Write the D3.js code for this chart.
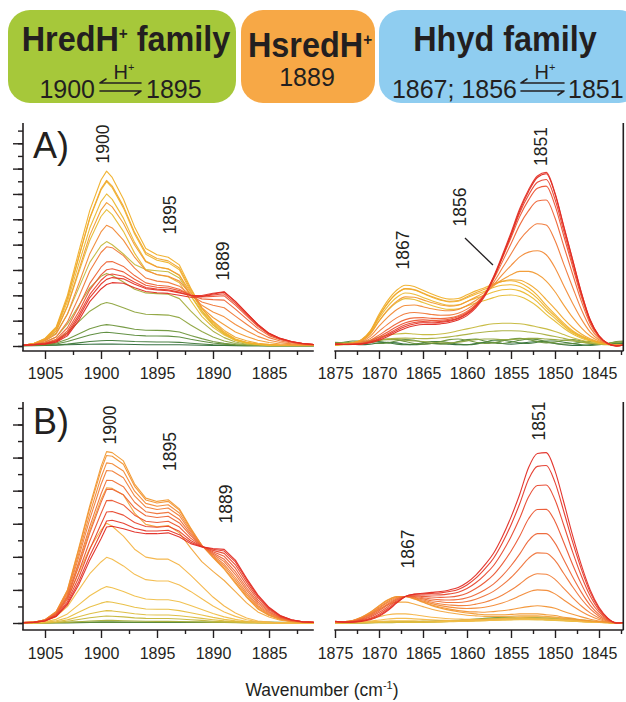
<!DOCTYPE html>
<html><head><meta charset="utf-8">
<script src="https://cdn.jsdelivr.net/npm/d3@7"></script>
<style>
body{margin:0;background:#fff}
svg{display:block}
text{font-family:"Liberation Sans",Arial,Helvetica,sans-serif;fill:#231f20}
</style>
</head><body>
<svg id="c" width="626" height="702"></svg>
<script>
// ---------------- DATA ----------------
const wnLeft = [1907,1906,1905,1904,1903,1902,1901,1900,1899.5,1899,1898,1897,1896,1895,1894,1893,1892,1891,1890,1889,1888,1887,1886,1885,1884,1883,1882,1881];
const wnRight = [1875,1874,1873,1872,1871,1870,1869,1868,1867,1866,1865,1864,1863,1862,1861,1860,1859,1858,1857,1856,1855,1854,1853,1852,1851,1850,1849,1848,1847,1846,1845,1844,1843,1842];

const leftTicks = [1905,1900,1895,1890,1885];
const leftMinorTicks = [1902.5,1897.5,1892.5,1887.5,1882.5];
const rightTicks = [1875,1870,1865,1860,1855,1850,1845];
const rightMinorTicks = [1872.5,1867.5,1862.5,1857.5,1852.5,1847.5,1842.5];
const yTicksA = [0,1,2,3,4,5,6,7,8,9,10,11,12,13,14,15,16,17];
const yTicksB = [0,1,2,3,4,5,6,7,8,9,10,11,12,13];

const colorsA = ["#2d6a3a","#3f7a38","#5a8a3a","#6f963c","#8ea43e","#a9ae3e","#c5b83c","#e6bc34","#ebb830","#efb42c","#f0b02a","#f0a62e","#f29a32","#f28a36","#f07838","#ee6436","#ec5232","#e8422e","#e43428","#e02a22"];
const colorsB = ["#4a7f36","#6a9238","#a8ae3a","#c4b63a","#dcbc3c","#e8be40","#f0bf48","#f3bb4a","#f4b446","#f2a53c","#f19a32","#f29434","#f28a36","#f17e38","#ef7238","#ed6536","#eb5632","#e8472e","#e5392a","#e22c24"];

const aLeftValues = [
[0.08,0.08,0.08,0.08,0.1,0.12,0.14,0.15,0.15,0.15,0.14,0.12,0.1,0.1,0.1,0.1,0.08,0.06,0.05,0.04,0.03,0.03,0.03,0.03,0.03,0.03,0.03,0.03],
[0.02,0.03,0.04,0.07,0.15,0.25,0.36,0.42,0.44,0.43,0.39,0.35,0.33,0.32,0.32,0.29,0.22,0.16,0.1,0.07,0.04,0.03,0.02,0.02,0.02,0.02,0.02,0.02],
[0.03,0.05,0.08,0.16,0.35,0.61,0.87,1.04,1.08,1.05,0.95,0.85,0.8,0.79,0.78,0.71,0.53,0.38,0.24,0.15,0.08,0.05,0.04,0.03,0.03,0.03,0.03,0.03],
[0.03,0.06,0.11,0.23,0.53,0.94,1.36,1.62,1.69,1.64,1.49,1.32,1.24,1.23,1.21,1.11,0.83,0.58,0.36,0.21,0.11,0.06,0.05,0.03,0.03,0.03,0.03,0.03],
[0.03,0.1,0.2,0.44,1.05,1.9,2.75,3.29,3.43,3.33,3.02,2.68,2.51,2.48,2.44,2.24,1.66,1.15,0.71,0.4,0.2,0.1,0.06,0.03,0.03,0.03,0.03,0.03],
[0.03,0.14,0.32,0.71,1.74,3.17,4.59,5.5,5.73,5.56,5.05,4.48,4.19,4.13,4.08,3.74,2.77,1.91,1.17,0.66,0.32,0.14,0.09,0.03,0.03,0.03,0.03,0.03],
[0.04,0.2,0.45,1.02,2.5,4.55,6.6,7.91,8.24,7.99,7.26,6.44,6.03,5.94,5.86,5.37,3.98,2.75,1.68,0.94,0.45,0.2,0.12,0.04,0.04,0.04,0.04,0.04],
[0.04,0.16,0.47,1.17,3.12,5.77,8.35,10.22,10.76,10.37,9.05,7.33,6.01,5.62,5.46,4.99,3.59,2.34,1.48,0.86,0.43,0.23,0.12,0.08,0.04,0.04,0.04,0.04],
[0.04,0.17,0.52,1.31,3.48,6.44,9.31,11.4,12.0,11.57,10.09,8.18,6.7,6.26,6.09,5.57,4.0,2.61,1.65,0.96,0.48,0.26,0.13,0.09,0.04,0.04,0.04,0.04],
[0.05,0.19,0.56,1.41,3.76,6.96,10.06,12.31,12.97,12.5,10.9,8.84,7.24,6.77,6.58,6.02,4.32,2.82,1.79,1.03,0.52,0.28,0.14,0.09,0.05,0.05,0.05,0.05],
[0.05,0.2,0.6,1.5,4.0,7.4,10.7,13.1,13.8,13.3,11.6,9.4,7.7,7.2,7.0,6.4,4.6,3.0,1.9,1.1,0.55,0.3,0.15,0.1,0.05,0.05,0.05,0.05],
[0.05,0.19,0.57,1.41,3.76,6.98,10.13,12.41,13.07,12.62,11.04,8.97,7.38,6.91,6.72,6.15,4.47,2.99,1.97,1.23,0.69,0.41,0.22,0.14,0.08,0.06,0.06,0.05],
[0.05,0.17,0.48,1.19,3.16,5.95,8.73,10.73,11.32,10.98,9.69,7.97,6.64,6.24,6.08,5.6,4.22,3.03,2.25,1.68,1.11,0.75,0.45,0.28,0.16,0.11,0.08,0.06],
[0.05,0.15,0.39,0.95,2.52,4.87,7.29,9.0,9.53,9.32,8.36,7.01,5.96,5.64,5.51,5.12,4.07,3.21,2.69,2.3,1.7,1.2,0.76,0.46,0.27,0.17,0.11,0.08],
[0.05,0.13,0.3,0.71,1.9,3.83,5.92,7.38,7.83,7.76,7.13,6.14,5.36,5.12,5.02,4.72,4.0,3.47,3.21,3.02,2.36,1.72,1.1,0.66,0.39,0.24,0.14,0.09],
[0.05,0.12,0.24,0.54,1.44,3.08,4.94,6.22,6.64,6.66,6.28,5.56,4.98,4.8,4.72,4.48,4.0,3.72,3.66,3.62,2.91,2.14,1.39,0.82,0.49,0.29,0.17,0.11],
[0.05,0.11,0.21,0.45,1.2,2.69,4.43,5.62,6.02,6.1,5.85,5.27,4.79,4.64,4.58,4.37,4.02,3.87,3.92,3.96,3.22,2.38,1.55,0.91,0.55,0.32,0.19,0.11],
[0.05,0.11,0.18,0.39,1.04,2.42,4.07,5.19,5.58,5.68,5.51,5.03,4.62,4.49,4.43,4.25,3.98,3.92,4.03,4.12,3.36,2.49,1.63,0.96,0.57,0.34,0.19,0.12],
[0.05,0.11,0.17,0.35,0.92,2.22,3.82,4.89,5.26,5.4,5.3,4.88,4.53,4.42,4.36,4.19,3.99,3.99,4.16,4.28,3.52,2.61,1.7,1.0,0.6,0.35,0.2,0.12],
[0.05,0.1,0.15,0.3,0.8,2.0,3.5,4.5,4.85,5.0,4.95,4.6,4.3,4.2,4.15,4.0,3.85,3.9,4.1,4.25,3.5,2.6,1.7,1.0,0.6,0.35,0.2,0.12]
];

const aRightValues = [
[0.25,0.2,0.15,0.1,0.15,0.25,0.3,0.25,0.15,0.1,0.15,0.2,0.2,0.15,0.1,0.1,0.2,0.3,0.3,0.2,0.15,0.2,0.3,0.35,0.3,0.2,0.1,0.05,0.05,0.1,0.15,0.2,0.2,0.2],
[0.1,0.15,0.25,0.35,0.4,0.35,0.25,0.15,0.1,0.15,0.25,0.35,0.35,0.25,0.15,0.1,0.15,0.3,0.45,0.45,0.35,0.25,0.2,0.3,0.4,0.4,0.3,0.2,0.1,0.05,0.1,0.2,0.3,0.35],
[0.2,0.3,0.4,0.4,0.3,0.2,0.25,0.4,0.5,0.45,0.3,0.2,0.15,0.2,0.35,0.5,0.55,0.4,0.25,0.2,0.3,0.45,0.55,0.5,0.35,0.2,0.15,0.2,0.3,0.35,0.25,0.15,0.2,0.3],
[0.3,0.25,0.2,0.2,0.3,0.45,0.55,0.5,0.35,0.2,0.15,0.2,0.35,0.5,0.55,0.45,0.3,0.2,0.25,0.4,0.55,0.6,0.5,0.35,0.25,0.3,0.45,0.5,0.4,0.25,0.15,0.2,0.35,0.4],
[0.2,0.25,0.3,0.35,0.4,0.45,0.5,0.5,0.45,0.4,0.35,0.3,0.25,0.25,0.3,0.4,0.5,0.55,0.55,0.5,0.5,0.55,0.6,0.6,0.55,0.5,0.45,0.4,0.3,0.2,0.15,0.2,0.3,0.35],
[0.1,0.1,0.12,0.18,0.3,0.45,0.55,0.6,0.62,0.6,0.58,0.6,0.65,0.72,0.82,0.92,1.02,1.1,1.16,1.2,1.2,1.18,1.1,1.0,0.88,0.75,0.6,0.45,0.32,0.22,0.15,0.1,0.08,0.08],
[0.1,0.12,0.15,0.25,0.45,0.7,0.85,0.95,1.0,0.95,0.9,0.9,0.95,1.05,1.2,1.35,1.5,1.65,1.75,1.8,1.8,1.75,1.65,1.5,1.35,1.15,0.9,0.65,0.45,0.3,0.2,0.15,0.1,0.1],
[0.08,0.12,0.2,0.39,0.94,1.95,2.81,3.43,3.74,3.67,3.43,3.2,3.0,2.89,2.93,3.16,3.39,3.59,3.82,3.98,4.02,3.9,3.59,3.12,2.5,1.95,1.4,0.94,0.62,0.39,0.23,0.12,0.08,0.08],
[0.09,0.13,0.22,0.44,1.04,2.18,3.13,3.83,4.18,4.09,3.83,3.57,3.35,3.22,3.26,3.52,3.78,4.0,4.26,4.44,4.48,4.35,4.0,3.48,2.78,2.18,1.57,1.04,0.7,0.44,0.26,0.13,0.09,0.09],
[0.09,0.14,0.24,0.47,1.13,2.35,3.38,4.14,4.51,4.42,4.14,3.85,3.62,3.48,3.53,3.81,4.09,4.32,4.61,4.79,4.84,4.7,4.32,3.76,3.01,2.35,1.69,1.13,0.75,0.47,0.28,0.14,0.09,0.09],
[0.1,0.15,0.25,0.5,1.2,2.5,3.6,4.4,4.8,4.7,4.4,4.1,3.85,3.7,3.75,4.05,4.35,4.6,4.9,5.1,5.15,5.0,4.6,4.0,3.2,2.5,1.8,1.2,0.8,0.5,0.3,0.15,0.1,0.1],
[0.1,0.15,0.24,0.47,1.13,2.35,3.39,4.15,4.53,4.45,4.18,3.9,3.67,3.53,3.59,3.89,4.2,4.47,4.82,5.09,5.23,5.19,4.89,4.39,3.66,2.93,2.14,1.46,0.95,0.57,0.32,0.15,0.09,0.1],
[0.11,0.14,0.21,0.41,0.95,1.97,2.85,3.52,3.88,3.85,3.64,3.42,3.24,3.15,3.22,3.52,3.86,4.23,4.74,5.23,5.62,5.89,5.89,5.66,5.12,4.28,3.23,2.26,1.44,0.79,0.39,0.15,0.08,0.1],
[0.12,0.13,0.19,0.34,0.76,1.56,2.28,2.86,3.2,3.23,3.1,2.94,2.82,2.78,2.88,3.19,3.59,4.09,4.82,5.61,6.35,7.03,7.41,7.52,7.2,6.18,4.75,3.38,2.12,1.1,0.49,0.16,0.06,0.1],
[0.13,0.13,0.16,0.27,0.58,1.15,1.73,2.22,2.55,2.64,2.59,2.49,2.43,2.44,2.58,2.91,3.38,4.03,5.0,6.13,7.26,8.38,9.17,9.65,9.55,8.32,6.46,4.64,2.88,1.45,0.6,0.18,0.04,0.1],
[0.14,0.13,0.15,0.22,0.44,0.86,1.32,1.76,2.08,2.22,2.24,2.18,2.17,2.22,2.39,2.73,3.27,4.04,5.22,6.62,8.07,9.56,10.68,11.44,11.52,10.1,7.88,5.68,3.52,1.74,0.7,0.19,0.02,0.1],
[0.15,0.13,0.14,0.2,0.37,0.71,1.11,1.52,1.84,2.0,2.06,2.02,2.04,2.11,2.3,2.65,3.22,4.06,5.36,6.91,8.54,10.23,11.53,12.45,12.62,11.1,8.68,6.26,3.88,1.91,0.76,0.2,0.01,0.1],
[0.15,0.12,0.13,0.18,0.32,0.6,0.96,1.35,1.67,1.85,1.92,1.9,1.93,2.02,2.21,2.56,3.15,4.03,5.38,7.01,8.72,10.52,11.91,12.92,13.14,11.58,9.06,6.54,4.05,1.98,0.78,0.2,0.01,0.1],
[0.15,0.12,0.13,0.17,0.29,0.53,0.86,1.23,1.54,1.74,1.83,1.82,1.87,1.96,2.16,2.52,3.13,4.04,5.45,7.15,8.95,10.85,12.34,13.42,13.7,12.08,9.45,6.84,4.22,2.07,0.81,0.2,0.0,0.1],
[0.15,0.12,0.12,0.15,0.25,0.45,0.75,1.1,1.4,1.6,1.7,1.7,1.75,1.85,2.05,2.4,3.0,3.9,5.3,7.0,8.8,10.7,12.2,13.3,13.6,12.0,9.4,6.8,4.2,2.05,0.8,0.2,0.0,0.1]
];

const bLeftValues = [
[0,0,0,0,0.01,0.02,0.03,0.04,0.04,0.04,0.04,0.03,0.03,0.03,0.03,0.03,0.03,0.03,0.03,0.04,0.05,0.05,0.04,0.03,0.02,0.01,0,0],
[0.02,0.02,0.02,0.03,0.04,0.05,0.06,0.07,0.07,0.07,0.06,0.06,0.06,0.06,0.06,0.06,0.05,0.05,0.05,0.06,0.07,0.07,0.06,0.05,0.04,0.03,0.02,0.02],
[0,0,0,0.02,0.04,0.08,0.12,0.15,0.16,0.16,0.14,0.12,0.11,0.1,0.1,0.09,0.08,0.06,0.04,0.03,0.02,0.01,0,0,0,0,0,0],
[0,0,0.01,0.04,0.11,0.21,0.32,0.39,0.42,0.41,0.37,0.31,0.28,0.27,0.27,0.24,0.2,0.16,0.11,0.07,0.04,0.02,0.01,0,0,0,0,0],
[0,0.01,0.02,0.08,0.19,0.38,0.56,0.7,0.75,0.73,0.65,0.56,0.5,0.48,0.48,0.44,0.36,0.28,0.2,0.13,0.08,0.04,0.02,0.01,0,0,0,0],
[0,0.01,0.04,0.13,0.32,0.65,0.97,1.2,1.29,1.25,1.12,0.95,0.85,0.83,0.83,0.75,0.62,0.48,0.34,0.22,0.13,0.06,0.03,0.01,0,0,0,0],
[0,0.02,0.07,0.22,0.55,1.1,1.65,2.05,2.2,2.13,1.91,1.63,1.45,1.41,1.41,1.28,1.06,0.81,0.57,0.37,0.22,0.11,0.04,0.02,0,0,0,0],
[0,0.04,0.12,0.4,0.99,1.99,2.98,3.69,3.97,3.85,3.45,2.94,2.62,2.54,2.54,2.3,1.91,1.47,1.03,0.67,0.4,0.2,0.08,0.04,0,0,0,0],
[0,0.06,0.18,0.6,1.51,3.02,4.52,5.61,6.03,5.85,5.25,4.46,3.98,3.86,3.86,3.5,2.89,2.23,1.57,1.03,0.6,0.3,0.12,0.06,0,0,0,0],
[0.02,0.04,0.16,0.55,1.58,3.56,5.61,7.47,8.18,8.14,7.74,6.64,5.96,5.81,5.89,5.45,4.54,3.71,3.12,2.57,1.9,1.22,0.67,0.36,0.17,0.08,0.04,0.02],
[0.02,0.05,0.2,0.7,2.0,4.5,7.1,9.45,10.36,10.3,9.8,8.4,7.55,7.35,7.45,6.9,5.75,4.7,3.95,3.25,2.4,1.55,0.85,0.45,0.22,0.1,0.05,0.03],
[0.02,0.05,0.2,0.69,1.96,4.39,6.94,9.23,10.13,10.08,9.6,8.26,7.44,7.25,7.35,6.82,5.7,4.7,3.98,3.31,2.47,1.61,0.89,0.48,0.23,0.1,0.05,0.03],
[0.02,0.05,0.19,0.66,1.87,4.17,6.61,8.8,9.68,9.63,9.19,7.97,7.23,7.06,7.15,6.65,5.61,4.69,4.03,3.43,2.61,1.72,0.98,0.52,0.26,0.12,0.06,0.03],
[0.02,0.05,0.18,0.63,1.78,3.95,6.28,8.37,9.22,9.19,8.78,7.68,7.01,6.86,6.95,6.48,5.51,4.68,4.09,3.55,2.75,1.84,1.06,0.58,0.28,0.13,0.06,0.03],
[0.02,0.05,0.17,0.59,1.66,3.66,5.84,7.8,8.62,8.61,8.24,7.3,6.73,6.61,6.69,6.26,5.39,4.66,4.16,3.71,2.93,1.99,1.17,0.64,0.31,0.14,0.06,0.03],
[0.02,0.05,0.16,0.55,1.55,3.4,5.45,7.28,8.08,8.08,7.75,6.95,6.48,6.38,6.45,6.05,5.28,4.65,4.23,3.85,3.1,2.13,1.28,0.7,0.34,0.15,0.07,0.04],
[0.02,0.04,0.15,0.51,1.42,3.07,4.96,6.62,7.4,7.41,7.14,6.52,6.15,6.08,6.15,5.8,5.13,4.64,4.31,4.03,3.31,2.3,1.4,0.78,0.37,0.17,0.07,0.04],
[0.02,0.04,0.14,0.46,1.28,2.74,4.46,5.97,6.71,6.74,6.52,6.08,5.83,5.79,5.85,5.54,4.99,4.62,4.39,4.21,3.52,2.47,1.53,0.85,0.4,0.18,0.07,0.04],
[0.02,0.04,0.13,0.42,1.17,2.48,4.06,5.45,6.17,6.21,6.03,5.73,5.57,5.56,5.61,5.34,4.88,4.61,4.46,4.35,3.69,2.61,1.63,0.91,0.43,0.19,0.08,0.04],
[0.02,0.04,0.12,0.4,1.1,2.3,3.8,5.1,5.8,5.85,5.7,5.5,5.4,5.4,5.45,5.2,4.8,4.6,4.5,4.45,3.8,2.7,1.7,0.95,0.45,0.2,0.08,0.04]
];

const bRightValues = [
[0.01,0.01,0.02,0.02,0.03,0.03,0.04,0.05,0.06,0.07,0.08,0.09,0.1,0.12,0.14,0.17,0.2,0.24,0.28,0.3,0.3,0.3,0.28,0.26,0.24,0.22,0.2,0.17,0.13,0.08,0.05,0.03,0.01,0.01],
[0.02,0.02,0.03,0.04,0.05,0.05,0.06,0.06,0.07,0.08,0.1,0.12,0.14,0.15,0.17,0.2,0.24,0.28,0.32,0.35,0.36,0.35,0.33,0.31,0.3,0.3,0.28,0.24,0.18,0.12,0.07,0.04,0.02,0.01],
[0,0,0,0.01,0.01,0.02,0.02,0.03,0.03,0.04,0.05,0.07,0.09,0.12,0.15,0.18,0.21,0.24,0.27,0.3,0.32,0.33,0.33,0.32,0.3,0.27,0.24,0.2,0.15,0.1,0.06,0.03,0.01,0],
[0,0,0.01,0.01,0.02,0.03,0.03,0.04,0.04,0.04,0.05,0.06,0.08,0.1,0.13,0.16,0.19,0.22,0.25,0.28,0.3,0.3,0.28,0.26,0.24,0.22,0.2,0.17,0.13,0.09,0.05,0.03,0.01,0],
[0,0.01,0.01,0.02,0.03,0.04,0.05,0.05,0.05,0.05,0.05,0.06,0.07,0.09,0.11,0.14,0.17,0.2,0.22,0.24,0.25,0.25,0.24,0.22,0.2,0.18,0.16,0.13,0.1,0.07,0.04,0.02,0.01,0.01],
[0.01,0.01,0.02,0.03,0.05,0.07,0.08,0.08,0.07,0.06,0.06,0.06,0.07,0.08,0.09,0.1,0.12,0.14,0.16,0.18,0.19,0.2,0.2,0.19,0.17,0.15,0.12,0.1,0.08,0.06,0.04,0.02,0.01,0.01],
[0.02,0.02,0.03,0.05,0.07,0.1,0.12,0.14,0.14,0.13,0.12,0.11,0.1,0.1,0.1,0.11,0.12,0.14,0.16,0.18,0.2,0.21,0.22,0.22,0.2,0.18,0.15,0.12,0.08,0.05,0.03,0.02,0.01,0.01],
[0.02,0.03,0.05,0.08,0.12,0.18,0.24,0.28,0.28,0.25,0.22,0.19,0.17,0.15,0.14,0.14,0.15,0.16,0.18,0.2,0.22,0.24,0.26,0.26,0.25,0.22,0.18,0.14,0.1,0.06,0.04,0.02,0.02,0.02],
[0.02,0.04,0.08,0.15,0.25,0.38,0.5,0.55,0.55,0.5,0.42,0.35,0.3,0.26,0.24,0.22,0.22,0.22,0.24,0.26,0.3,0.34,0.37,0.38,0.36,0.32,0.26,0.2,0.14,0.09,0.05,0.03,0.02,0.02],
[0.04,0.06,0.12,0.28,0.51,0.83,1.11,1.26,1.26,1.15,0.99,0.83,0.71,0.62,0.54,0.47,0.43,0.4,0.4,0.4,0.41,0.43,0.43,0.43,0.4,0.36,0.28,0.22,0.16,0.11,0.06,0.03,0.02,0.02],
[0.05,0.08,0.15,0.35,0.65,1.05,1.4,1.6,1.6,1.45,1.25,1.05,0.9,0.78,0.68,0.6,0.55,0.5,0.5,0.5,0.52,0.55,0.55,0.55,0.5,0.45,0.35,0.28,0.2,0.14,0.08,0.04,0.02,0.02],
[0.05,0.08,0.15,0.34,0.63,1.02,1.37,1.58,1.6,1.47,1.28,1.09,0.95,0.84,0.75,0.69,0.67,0.65,0.69,0.74,0.81,0.91,0.99,1.04,0.99,0.89,0.7,0.53,0.37,0.23,0.12,0.05,0.02,0.02],
[0.06,0.08,0.14,0.31,0.58,0.95,1.3,1.54,1.6,1.5,1.33,1.17,1.05,0.96,0.9,0.88,0.9,0.95,1.06,1.21,1.4,1.64,1.88,2.0,1.97,1.76,1.39,1.03,0.7,0.42,0.21,0.08,0.02,0.03],
[0.06,0.07,0.13,0.29,0.54,0.89,1.24,1.5,1.6,1.53,1.39,1.25,1.15,1.09,1.05,1.06,1.14,1.25,1.43,1.68,1.99,2.36,2.76,2.98,2.95,2.64,2.09,1.54,1.03,0.61,0.3,0.11,0.02,0.03],
[0.07,0.07,0.11,0.26,0.48,0.8,1.15,1.45,1.6,1.56,1.46,1.35,1.28,1.24,1.24,1.3,1.44,1.64,1.91,2.29,2.75,3.31,3.91,4.24,4.22,3.78,2.99,2.19,1.45,0.85,0.41,0.14,0.01,0.03],
[0.08,0.07,0.1,0.23,0.43,0.73,1.08,1.4,1.6,1.6,1.53,1.45,1.4,1.39,1.42,1.53,1.73,2.0,2.35,2.85,3.46,4.18,4.98,5.4,5.4,4.83,3.83,2.79,1.85,1.07,0.52,0.17,0.01,0.04],
[0.08,0.06,0.09,0.19,0.36,0.63,0.98,1.34,1.6,1.65,1.61,1.57,1.55,1.57,1.64,1.8,2.08,2.45,2.91,3.56,4.34,5.26,6.3,6.86,6.87,6.14,4.87,3.54,2.35,1.35,0.65,0.21,0.01,0.04],
[0.09,0.06,0.07,0.15,0.29,0.53,0.88,1.28,1.6,1.69,1.69,1.69,1.7,1.76,1.86,2.08,2.43,2.9,3.46,4.26,5.22,6.35,7.63,8.31,8.34,7.45,5.91,4.3,2.84,1.63,0.78,0.25,0.0,0.04],
[0.1,0.05,0.06,0.12,0.24,0.45,0.8,1.23,1.6,1.73,1.76,1.79,1.82,1.9,2.03,2.3,2.71,3.26,3.9,4.82,5.93,7.22,8.69,9.47,9.52,8.5,6.74,4.9,3.24,1.85,0.88,0.28,0.0,0.05],
[0.1,0.05,0.05,0.1,0.2,0.4,0.75,1.2,1.6,1.75,1.8,1.85,1.9,2.0,2.15,2.45,2.9,3.5,4.2,5.2,6.4,7.8,9.4,10.25,10.3,9.2,7.3,5.3,3.5,2.0,0.95,0.3,0.0,0.05]
];

// Peak annotations, positioned in data coordinates (wavenumber, absorbance units)
const labelsA = [
  {panel:"left", text:"1900", w:1899.87, v:15.94},
  {panel:"left", text:"1895", w:1893.84, v:10.34},
  {panel:"left", text:"1889", w:1889.15, v:6.71},
  {panel:"right", text:"1851", w:1851.65, v:15.75},
  {panel:"right", text:"1856", w:1860.85, v:10.97},
  {panel:"right", text:"1867", w:1867.33, v:7.58}
];
const labelsB = [
  {panel:"left", text:"1900", w:1899.24, v:11.97},
  {panel:"left", text:"1895", w:1893.84, v:10.37},
  {panel:"left", text:"1889", w:1888.88, v:7.19},
  {panel:"right", text:"1851", w:1851.82, v:12.21},
  {panel:"right", text:"1867", w:1866.7, v:4.47}
];
const leaderA = [[1860.23, 8.52],[1857.05, 6.39]];

// ---------------- DRAW ----------------
const svg = d3.select("#c");
const ink = "#231f20";
const defs = svg.append("defs");

const xL = d3.scaleLinear().domain([1907, 1881]).range([22.6, 313.8]);
const xR = d3.scaleLinear().domain([1875, 1842.25]).range([335, 623.2]);
const yA = d3.scaleLinear().domain([0, 17.6]).range([346, 123]);
const yB = d3.scaleLinear().domain([0, 13.36]).range([623, 402]);

function clip(id, x0, x1, y0, y1){
  defs.append("clipPath").attr("id", id).append("rect")
    .attr("x", x0).attr("y", y0).attr("width", x1 - x0).attr("height", y1 - y0);
}
clip("cAL", 22.6, 314, 100, 352);
clip("cAR", 335, 623, 100, 352);
clip("cBL", 22.6, 314, 380, 631);
clip("cBR", 335, 623, 380, 631);

function drawLines(wn, values, colors, x, y, clipId, curve){
  const line = d3.line().x((d, i) => x(wn[i])).y(d => y(d)).curve(curve);
  svg.append("g").attr("clip-path", `url(#${clipId})`)
    .selectAll("path").data(values).join("path")
    .attr("d", line).attr("fill", "none")
    .attr("stroke", (d, i) => colors[i])
    .attr("stroke-width", 1.1).attr("stroke-linejoin", "round")
    .attr("stroke-opacity", 0.95);
}

function styleAxis(g){
  g.select(".domain").remove();
  g.selectAll(".tick line").attr("stroke", ink).attr("stroke-width", 1.4);
  g.selectAll(".tick text").attr("fill", ink).attr("font-size", 16)
    .attr("font-family", '"Liberation Sans",Arial,sans-serif');
}

function drawRow(cfg){
  const {y, axisY, yTop, yTicks, leftVals, rightVals, colors, cl, cr, labels, label, labelY} = cfg;
  drawLines(wnLeft, leftVals, colors, xL, y, cl, d3.curveLinear);
  drawLines(wnRight, rightVals, colors, xR, y, cr, d3.curveMonotoneX);

  const yg = svg.append("g").attr("transform", "translate(23,0)");
  yg.append("g").call(d3.axisLeft(y).tickValues(yTicks).tickSize(5).tickFormat("")).call(styleAxis);
  yg.append("g").call(d3.axisLeft(y).tickValues(yTicks.filter(t => t % 2 === 0)).tickSize(10).tickFormat("")).call(styleAxis);
  svg.append("line").attr("x1", 23).attr("x2", 23).attr("y1", yTop).attr("y2", axisY)
    .attr("stroke", ink).attr("stroke-width", 1.6);

  const xgL = svg.append("g").attr("transform", `translate(0,${axisY})`);
  xgL.append("g").call(d3.axisBottom(xL).tickValues(leftMinorTicks).tickSize(4).tickFormat("")).call(styleAxis);
  xgL.append("g").call(d3.axisBottom(xL).tickValues(leftTicks).tickSize(8).tickPadding(cfg.pad).tickFormat(d3.format("d"))).call(styleAxis);
  svg.append("line").attr("x1", 22.2).attr("x2", 313.8).attr("y1", axisY).attr("y2", axisY)
    .attr("stroke", ink).attr("stroke-width", 1.6);

  const xgR = svg.append("g").attr("transform", `translate(0,${axisY})`);
  xgR.append("g").call(d3.axisBottom(xR).tickValues(rightMinorTicks).tickSize(4).tickFormat("")).call(styleAxis);
  xgR.append("g").call(d3.axisBottom(xR).tickValues(rightTicks).tickSize(8).tickPadding(cfg.pad).tickFormat(d3.format("d"))).call(styleAxis);
  svg.append("line").attr("x1", 334.3).attr("x2", 623.5).attr("y1", axisY).attr("y2", axisY)
    .attr("stroke", ink).attr("stroke-width", 1.6);

  svg.append("line").attr("x1", 623.3).attr("x2", 623.3).attr("y1", yTop).attr("y2", axisY)
    .attr("stroke", ink).attr("stroke-width", 1.6);

  svg.append("text").attr("x", 33).attr("y", labelY).attr("font-size", 36).text(label);

  labels.forEach(l => {
    const x = l.panel === "left" ? xL(l.w) : xR(l.w);
    svg.append("text").attr("transform", `translate(${x},${y(l.v)}) rotate(-90)`)
      .attr("text-anchor", "middle").attr("dy", "0.36em").attr("font-size", 17.5).text(l.text);
  });
}

drawRow({y: yA, axisY: 351, yTop: 123, yTicks: yTicksA, leftVals: aLeftValues, rightVals: aRightValues,
  colors: colorsA, cl: "cAL", cr: "cAR", labels: labelsA, label: "A)", labelY: 158, pad: 9});
drawRow({y: yB, axisY: 630, yTop: 402, yTicks: yTicksB, leftVals: bLeftValues, rightVals: bRightValues,
  colors: colorsB, cl: "cBL", cr: "cBR", labels: labelsB, label: "B)", labelY: 434, pad: 10});

svg.append("line")
  .attr("x1", xR(leaderA[0][0])).attr("y1", yA(leaderA[0][1]))
  .attr("x2", xR(leaderA[1][0])).attr("y2", yA(leaderA[1][1]))
  .attr("stroke", ink).attr("stroke-width", 1.3);

const at = svg.append("text").attr("x", 322).attr("y", 696).attr("text-anchor", "middle").attr("font-size", 17.5);
at.append("tspan").text("Wavenumber (cm");
at.append("tspan").attr("font-size", 11).attr("dy", -7).text("-1");
at.append("tspan").attr("dy", 7).text(")");

// ---------------- HEADER ----------------
const boxes = [
  {x: 8, w: 228, fill: "#a6c83a"},
  {x: 241, w: 134, fill: "#f7a846"},
  {x: 379, w: 262, fill: "#8fcdf0"}
];
svg.append("g").selectAll("rect").data(boxes).join("rect")
  .attr("x", d => d.x).attr("y", 10).attr("width", d => d.w).attr("height", 93)
  .attr("rx", 22).attr("ry", 22).attr("fill", d => d.fill);

function title(cx, baseline, main, sup, rest){
  const g = svg.append("g").attr("transform", `translate(${cx},${baseline}) scale(0.9,1)`);
  const t = g.append("text").attr("text-anchor", "middle").attr("font-size", 36).attr("font-weight", "bold");
  t.append("tspan").text(main);
  if (sup) {
    t.append("tspan").attr("font-size", 17).attr("dy", -12).text(sup);
    if (rest) t.append("tspan").attr("font-size", 36).attr("dy", 12).text(rest);
  }
}
title(126, 51, "HredH", "+", " family");
title(310, 57, "HsredH", "+", null);
title(505, 51, "Hhyd family", null, null);

function eqArrow(x1, x2, yt, yb){
  const p = d3.path();
  p.moveTo(x2, yt); p.lineTo(x1, yt);
  p.moveTo(x1 + 6, yt - 4); p.lineTo(x1, yt);
  p.moveTo(x1, yb); p.lineTo(x2, yb);
  p.moveTo(x2 - 6, yb + 4); p.lineTo(x2, yb);
  svg.append("path").attr("d", p.toString()).attr("fill", "none")
    .attr("stroke", ink).attr("stroke-width", 1.6).attr("stroke-linecap", "round");
}
function hPlus(cx, baseline){
  const t = svg.append("text").attr("x", cx).attr("y", baseline).attr("text-anchor", "middle").attr("font-size", 20);
  t.append("tspan").text("H");
  t.append("tspan").attr("font-size", 11).attr("dy", -8).text("+");
}
function num(x, baseline, anchor, s){
  svg.append("text").attr("x", x).attr("y", baseline).attr("text-anchor", anchor).attr("font-size", 25).text(s);
}
num(95, 98, "end", "1900");
eqArrow(100, 141, 83, 91);
hPlus(124, 79);
num(146, 98, "start", "1895");
num(307, 86, "middle", "1889");
num(517, 98, "end", "1867; 1856");
eqArrow(521, 564, 83, 91);
hPlus(545, 79);
num(568, 98, "start", "1851");
</script>
</body></html>
